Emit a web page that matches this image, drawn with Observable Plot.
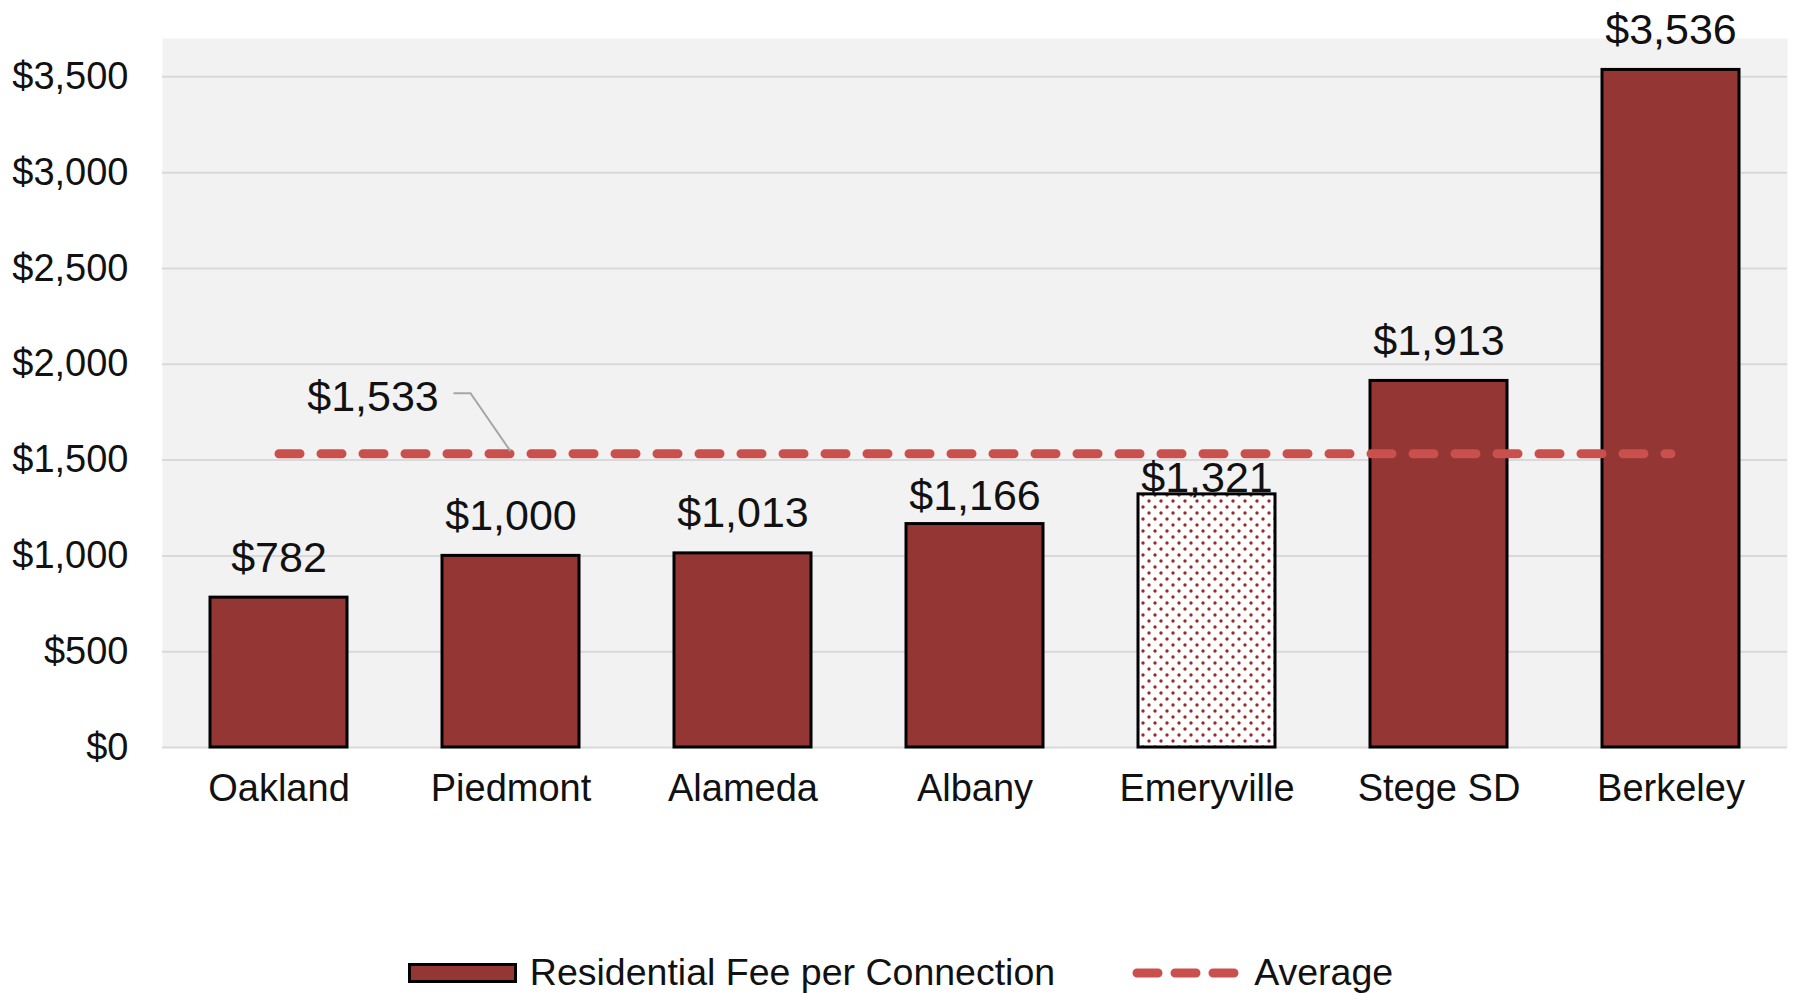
<!DOCTYPE html>
<html>
<head>
<meta charset="utf-8">
<script src="https://cdn.jsdelivr.net/npm/d3@7"></script>
<script src="https://cdn.jsdelivr.net/npm/@observablehq/plot@0.6"></script>
<style>
  html, body { margin: 0; padding: 0; background: #fff; }
  body { width: 1793px; height: 993px; overflow: hidden; font-family: "Liberation Sans", Arial, sans-serif; }
  #legend { display: flex; justify-content: center; align-items: center; height: 41px; font-size: 37.5px; color: #111; padding-left: 8px; }
  #legend .item { display: flex; align-items: center; }
</style>
</head>
<body>
<div id="chart"></div>
<div id="legend">
  <div class="item">
    <svg width="109" height="20" style="margin-right:13px"><rect x="1.5" y="1.5" width="106" height="17" fill="#943634" stroke="#000" stroke-width="3"/></svg>
    <span>Residential Fee per Connection</span>
  </div>
  <div class="item" style="margin-left:77px">
    <svg width="108" height="20" style="margin-right:14px"><line x1="5" x2="104" y1="10" y2="10" stroke="#c9504d" stroke-width="9" stroke-linecap="round" stroke-dasharray="21,17"/></svg>
    <span>Average</span>
  </div>
</div>
<script>
const categories = ["Oakland", "Piedmont", "Alameda", "Albany", "Emeryville", "Stege SD", "Berkeley"];
const fees = [782, 1000, 1013, 1166, 1321, 1913, 3536];
const patterned = [false, false, false, false, true, false, false];
const averageFee = 1533;
const yTicks = [0, 500, 1000, 1500, 2000, 2500, 3000, 3500];

const data = categories.map((c, i) => ({ city: c, fee: fees[i], patterned: patterned[i] }));
const fmt = v => "$" + d3.format(",")(v);
const labelNudge = { Albany: -14, Emeryville: -2 };

const plot = Plot.plot({
  width: 1793,
  height: 952,
  marginLeft: 162,
  marginRight: 6,
  marginTop: 38,
  marginBottom: 205,
  style: { fontFamily: "'Liberation Sans', Arial, sans-serif", color: "#111", background: "#fff" },
  x: { domain: categories, paddingInner: 0.41, paddingOuter: 0.205, label: null },
  y: { domain: [0, 3700], ticks: yTicks, tickFormat: fmt, label: null },
  marks: [
    Plot.frame({ fill: "#f2f2f2", stroke: null }),
    Plot.gridY(yTicks, { stroke: "#d9d9d9", strokeOpacity: 1, strokeWidth: 2 }),
    Plot.axisY({ ticks: yTicks, tickFormat: fmt, tickSize: 0, tickPadding: 34, fontSize: 38, label: null }),
    Plot.axisX({ tickSize: 0, tickPadding: 27, fontSize: 38, label: null }),
    Plot.barY(data.filter(d => !d.patterned), { x: "city", y: "fee", fill: "#943634", stroke: "#000", strokeWidth: 3 }),
    Plot.barY(data.filter(d => d.patterned), { x: "city", y: "fee", fill: "url(#dots)", stroke: "#000", strokeWidth: 3 }),
    Plot.line([{ city: categories[0], v: averageFee }, { city: categories[categories.length - 1], v: averageFee }], {
      x: "city", y: "v", stroke: "#c9504d", strokeWidth: 9, strokeLinecap: "round", strokeDasharray: "21,21"
    }),
    Plot.text(data, {
      x: "city", y: "fee", text: d => fmt(d.fee), fontSize: 43, fill: "#111",
      lineAnchor: "bottom", dy: -26
    }),
    Plot.text([{ city: categories[0], v: averageFee }], {
      x: "city", y: "v", text: d => fmt(d.v), fontSize: 43, fill: "#111", lineAnchor: "bottom", dx: 94, dy: -43
    })
  ]
});

document.getElementById("chart").appendChild(plot);
const svg = d3.select(plot);
svg.insert("defs", ":first-child").html(`
  <pattern id="dots" width="12" height="12" patternUnits="userSpaceOnUse">
    <rect width="12" height="12" fill="#fff"/>
    <circle cx="3" cy="3" r="1.7" fill="#9b2a2e"/>
    <circle cx="9" cy="9" r="1.7" fill="#9b2a2e"/>
  </pattern>`);

// per-label nudges (Albany & Emeryville sit closer to their bars)
svg.selectAll("g[aria-label='text'] text").each(function () {
  const t = this.textContent;
  const d = data.find(dd => fmt(dd.fee) === t);
  if (d && labelNudge[d.city] !== undefined) {
    const tr = this.getAttribute("transform");
    this.setAttribute("transform", (tr || "") + ` translate(0,${26 + labelNudge[d.city]})`);
  }
});

// leader line for the average label
const xs = plot.scale("x"), ys = plot.scale("y");
const cx = xs.apply(categories[0]) + xs.bandwidth / 2;
const yAvg = ys.apply(averageFee);
svg.append("path")
  .attr("d", `M${cx + 175},${yAvg - 60}H${cx + 192}L${cx + xs.step},${yAvg - 2}`)
  .attr("fill", "none").attr("stroke", "#a6a6a6").attr("stroke-width", 2);
</script>
</body>
</html>
